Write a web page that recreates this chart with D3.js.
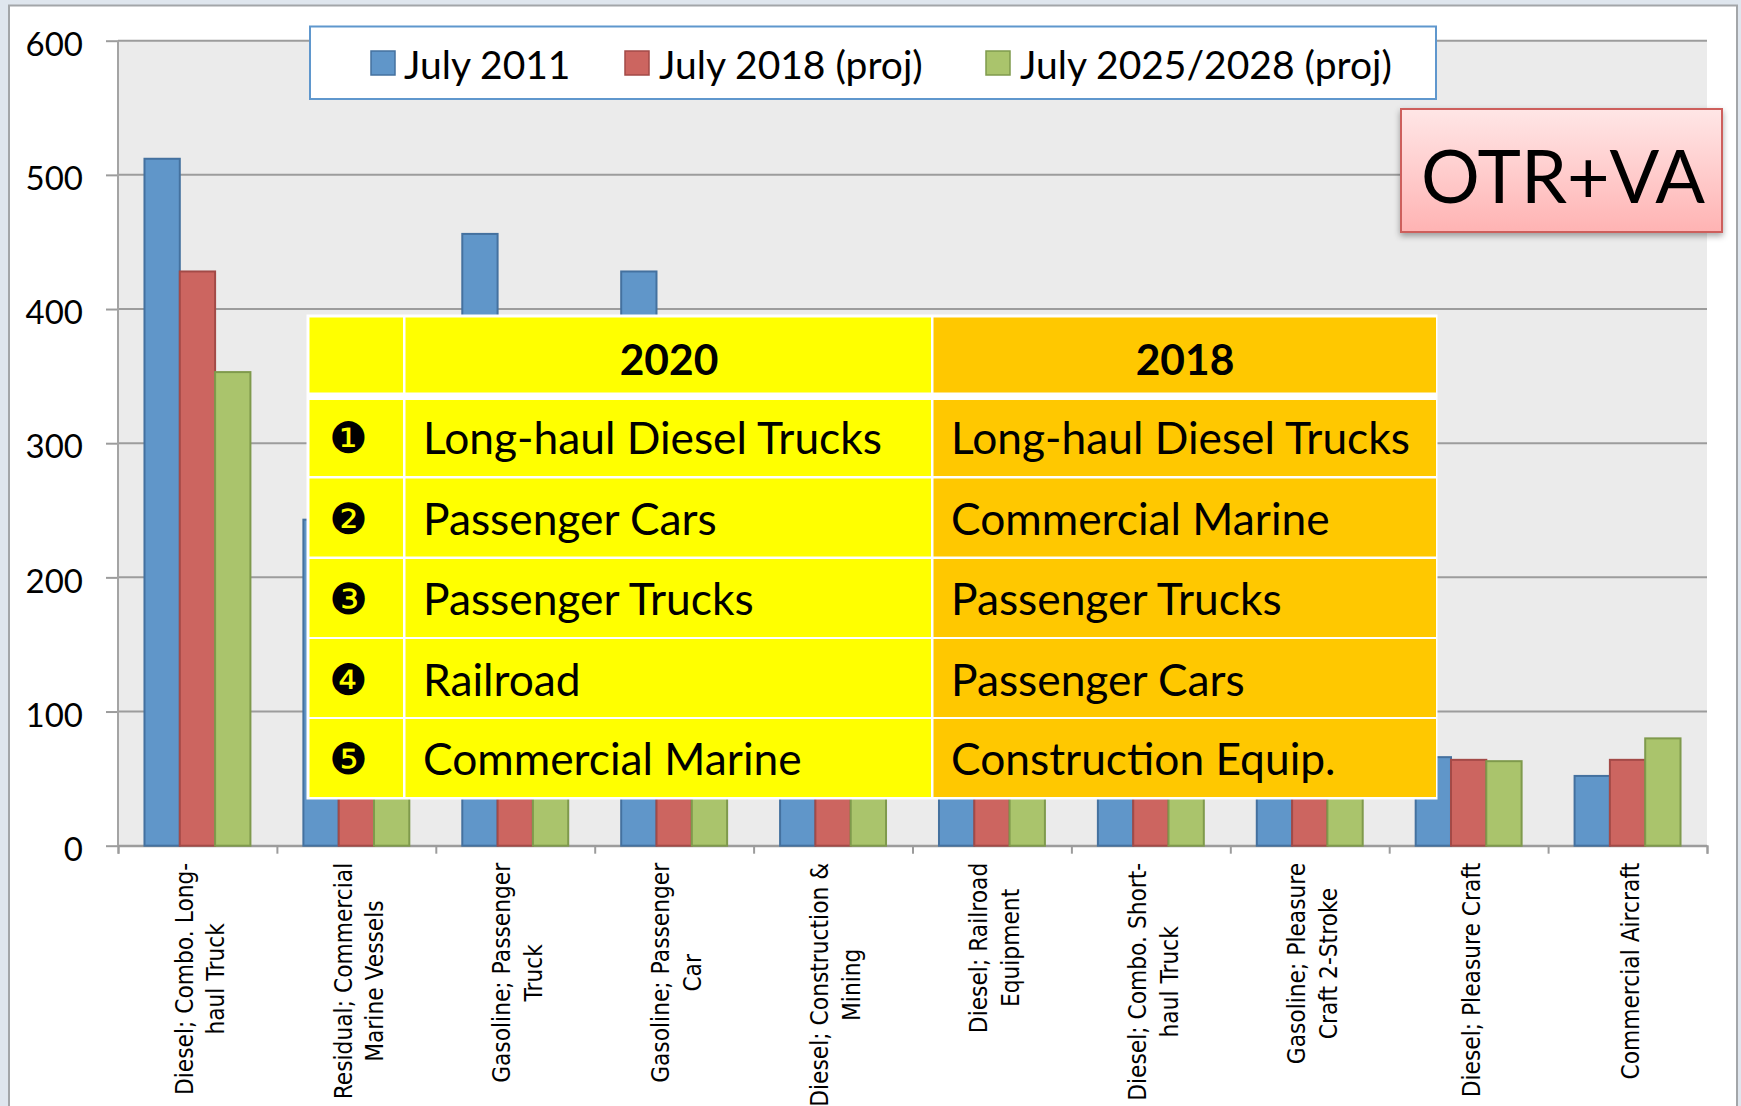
<!DOCTYPE html>
<html>
<head>
<meta charset="utf-8">
<script src="https://cdn.jsdelivr.net/npm/d3@7"></script>
<style>
  html, body { margin: 0; padding: 0; background: #dfe6ee; overflow: hidden; }
  text { font-family: Lato, sans-serif; fill: #000; }
  .axis text { font-size: 33px; }
  .cat { font-family: "DejaVu Sans", sans-serif; font-size: 20px; }
</style>
</head>
<body>
<div id="chart"></div>
<script>
const categories = [
  ['Diesel; Combo. Long-', 'haul Truck'],
  ['Residual; Commercial', 'Marine Vessels'],
  ['Gasoline; Passenger', 'Truck'],
  ['Gasoline; Passenger', 'Car'],
  ['Diesel; Construction &', 'Mining'],
  ['Diesel; Railroad', 'Equipment'],
  ['Diesel; Combo. Short-', 'haul Truck'],
  ['Gasoline; Pleasure', 'Craft 2-Stroke'],
  ['Diesel; Pleasure Craft'],
  ['Commercial Aircraft']
];
const seriesNames = ['July 2011', 'July 2018 (proj)', 'July 2025/2028 (proj)'];
// the table hides most of the bars in the middle, those are guesses
const july2011 = [512, 243, 456, 428, 240, 150, 150, 100, 66, 52];
const july2018 = [428, 200, 300, 210, 180, 160, 100, 60, 64, 64];
const july2025 = [353, 180, 180, 130, 150, 170, 70, 50, 63, 80];
const yTicks = [0, 100, 200, 300, 400, 500, 600];

const tableHead = ['', '2020', '2018'];
const ranks = ['❶', '❷', '❸', '❹', '❺'];
const rank2020 = ['Long-haul Diesel Trucks', 'Passenger Cars', 'Passenger Trucks', 'Railroad', 'Commercial Marine'];
const rank2018 = ['Long-haul Diesel Trucks', 'Commercial Marine', 'Passenger Trucks', 'Passenger Cars', 'Construction Equip.'];

const fills = ['#6096c9', '#cc6560', '#aac46c'];
const strokes = ['#44719f', '#a34a47', '#7f9a4c'];

class Chart{
  constructor(opts){
    this.element = opts.element;
    this.width = 1741;
    this.height = 1106;
    this.margin = { top : 40.7, bottom : 260.3, left : 118, right : 34 };
    this.draw();
  }

  draw(){
    const svg = d3.select(this.element).append('svg')
                  .attr('width', this.width)
                  .attr('height', this.height)
                  .style('display', 'block');
    this.svg = svg;

    this.addDefs();

    svg.append('rect')
       .attr('x', 9).attr('y', 5.5)
       .attr('width', 1728).attr('height', 1200)
       .attr('fill', '#fff')
       .attr('stroke', '#a3a6a9')
       .attr('stroke-width', 2);

    this.plot = svg.append('g')
                   .attr('transform', `translate(${this.margin.left},${this.margin.top})`);

    this.createScales();
    this.addAxes();
    this.addBars();
    this.addCategoryLabels();
    this.addLegend();
    this.addBadge();
    this.addTable();
  }

  addDefs(){
    const defs = this.svg.append('defs');
    const grad = defs.append('linearGradient')
                     .attr('id', 'badge')
                     .attr('x1', 0).attr('x2', 0).attr('y1', 0).attr('y2', 1);
    grad.append('stop').attr('offset', '0%').attr('stop-color', '#ffe6e6');
    grad.append('stop').attr('offset', '45%').attr('stop-color', '#ffd0d0');
    grad.append('stop').attr('offset', '100%').attr('stop-color', '#ffb3b3');

    const shadow = defs.append('filter')
                       .attr('id', 'shadow')
                       .attr('x', '-5%').attr('y', '-5%')
                       .attr('width', '110%').attr('height', '115%');
    shadow.append('feDropShadow')
          .attr('dx', 0).attr('dy', 3)
          .attr('stdDeviation', 3)
          .attr('flood-color', '#000')
          .attr('flood-opacity', 0.35);
  }

  createScales(){
    const m = this.margin;
    this.innerW = this.width - m.left - m.right;
    this.innerH = this.height - m.top - m.bottom;

    this.xScale = d3.scaleBand()
                    .domain(d3.range(categories.length))
                    .range([0, this.innerW])
                    .paddingInner(1/3)
                    .paddingOuter(1/6);

    this.barScale = d3.scaleBand()
                      .domain(d3.range(seriesNames.length))
                      .range([0, this.xScale.bandwidth()]);

    this.yScale = d3.scaleLinear()
                    .domain([0, 600])
                    .range([this.innerH, 0]);
  }

  addAxes(){
    this.plot.append('rect')
             .attr('width', this.innerW)
             .attr('height', this.innerH)
             .attr('fill', '#ebebeb');

    const yAxis = d3.axisLeft(this.yScale)
                    .tickValues(yTicks)
                    .tickSize(12)
                    .tickPadding(23);

    const grid = this.plot.append('g').attr('class', 'axis y');
    grid.selectAll('.gridline')
        .data(yTicks)
        .enter().append('line')
        .attr('class', 'gridline')
        .attr('x1', 0).attr('x2', this.innerW)
        .attr('y1', d => this.yScale(d)).attr('y2', d => this.yScale(d))
        .attr('stroke', '#9c9c9c')
        .attr('stroke-width', 2);
    grid.call(yAxis);
    grid.select('.domain').remove();
    grid.selectAll('.tick line').attr('stroke', '#9c9c9c').attr('stroke-width', 2);
    grid.selectAll('.tick text').attr('dy', '0.72em').attr('y', -9).attr('x', -35);

    this.plot.append('line')
             .attr('y1', 0).attr('y2', this.innerH)
             .attr('stroke', '#a4a4a4')
             .attr('stroke-width', 2);

    // ticks sit between the groups so a plain linear scale is used for them
    const xEdges = d3.scaleLinear().domain([0, categories.length]).range([0, this.innerW]);
    const xAxis = d3.axisBottom(xEdges)
                    .ticks(categories.length)
                    .tickSize(8)
                    .tickFormat('');
    const xg = this.plot.append('g')
                        .attr('class', 'axis x')
                        .attr('transform', `translate(0,${this.innerH})`)
                        .call(xAxis);
    xg.select('.domain').attr('stroke', '#9c9c9c').attr('stroke-width', 2);
    xg.selectAll('.tick line').attr('stroke', '#9c9c9c').attr('stroke-width', 2);
    this.xAxisG = xg;
  }

  addBars(){
    const series = [july2011, july2018, july2025];
    const group = this.plot.selectAll('.series')
                      .data(series)
                      .enter().append('g')
                      .attr('class', 'series');

    group.each((vals, s, nodes) => {
      d3.select(nodes[s]).selectAll('rect')
        .data(vals)
        .enter().append('rect')
        .attr('x', (d, i) => this.xScale(i) + this.barScale(s))
        .attr('y', d => this.yScale(d))
        .attr('width', this.barScale.bandwidth())
        .attr('height', d => this.innerH - this.yScale(d))
        .attr('fill', fills[s])
        .attr('stroke', strokes[s])
        .attr('stroke-width', 2);
    });
  }

  addCategoryLabels(){
    const lineGap = 31.6;
    const topY = this.innerH + 17;
    const stretchX = 1.09;
    const stretch = `scale(${stretchX},1.25)`;

    const labels = this.plot.selectAll('.cat-label')
                       .data(categories)
                       .enter().append('g')
                       .attr('class', 'cat-label');

    labels.each((lines, i, nodes) => {
      const g = d3.select(nodes[i]);
      const cx = this.xScale(i) + this.xScale.bandwidth() / 2 + 3;
      const texts = g.selectAll('text')
                     .data(lines)
                     .enter().append('text')
                     .attr('class', 'cat')
                     .attr('text-anchor', 'middle')
                     .text(d => d);
      const widest = d3.max(texts.nodes(), n => n.getComputedTextLength()) * stretchX;
      const cy = topY + widest / 2;
      texts.attr('transform', (d, k) => {
        const x = cx + (k - (lines.length - 1) / 2) * lineGap + 8;
        return `translate(${x},${cy}) rotate(-90) ${stretch}`;
      });
    });
  }

  addLegend(){
    const legend = this.svg.append('g').attr('class', 'legend');
    legend.append('rect')
          .attr('x', 310).attr('y', 26.5)
          .attr('width', 1126).attr('height', 72.5)
          .attr('fill', '#fff')
          .attr('stroke', '#5f97cd')
          .attr('stroke-width', 2);

    const swatchX = [371, 625, 986];
    const labelX = [404, 659, 1020];
    const items = legend.selectAll('.item')
                        .data(seriesNames)
                        .enter().append('g')
                        .attr('class', 'item');
    items.append('rect')
         .attr('x', (d, i) => swatchX[i])
         .attr('y', 51)
         .attr('width', 24).attr('height', 24)
         .attr('fill', (d, i) => fills[i])
         .attr('stroke', (d, i) => strokes[i])
         .attr('stroke-width', 1.5);
    items.append('text')
         .attr('x', (d, i) => labelX[i])
         .attr('y', 79)
         .style('font-size', '39px')
         .text(d => d);
  }

  addBadge(){
    const badge = this.svg.append('g').attr('class', 'badge');
    badge.append('rect')
         .attr('x', 1401).attr('y', 109)
         .attr('width', 321).attr('height', 123)
         .attr('fill', 'url(#badge)')
         .attr('stroke', '#cd5f5b')
         .attr('stroke-width', 2)
         .attr('filter', 'url(#shadow)');
    badge.append('text')
         .attr('x', 1421)
         .attr('y', 203)
         .style('font-size', '73.5px')
         .text('OTR+VA');
  }

  addTable(){
    const colX = [309.5, 405.5, 933.5];
    const colW = [93.5, 525.5, 502.5];
    const rowY = [317.5, 400, 478.5, 559, 639, 719];
    const rowH = [75, 76, 78, 78, 78, 78];
    const cellFill = ['#ffff00', '#ffff00', '#ffc800'];
    const table = this.svg.append('g').attr('class', 'table');

    table.append('rect')
         .attr('x', 306.5).attr('y', 314.5)
         .attr('width', 1131).attr('height', 485)
         .attr('fill', '#fff');

    rowY.forEach((y, r) => {
      table.selectAll(`.cell-${r}`)
           .data(colX)
           .enter().append('rect')
           .attr('x', d => d)
           .attr('y', y)
           .attr('width', (d, c) => colW[c])
           .attr('height', rowH[r])
           .attr('fill', (d, c) => cellFill[c]);
    });

    table.selectAll('.head')
         .data(tableHead)
         .enter().append('text')
         .attr('x', (d, c) => c === 1 ? 669 : 1185)
         .attr('y', 375)
         .attr('text-anchor', 'middle')
         .style('font-size', '42.5px')
         .style('font-weight', 700)
         .text(d => d);

    const baseY = [454, 535, 615, 696, 775];
    table.selectAll('.rank')
         .data(ranks)
         .enter().append('text')
         .attr('x', 348.5)
         .attr('y', (d, i) => baseY[i] - 1)
         .attr('text-anchor', 'middle')
         .style('font-family', '"DejaVu Sans"')
         .style('font-size', '43px')
         .text(d => d);

    table.selectAll('.r2020')
         .data(rank2020)
         .enter().append('text')
         .attr('x', 423)
         .attr('y', (d, i) => baseY[i])
         .style('font-size', '44.3px')
         .text(d => d);

    table.selectAll('.r2018')
         .data(rank2018)
         .enter().append('text')
         .attr('x', 951)
         .attr('y', (d, i) => baseY[i])
         .style('font-size', '44.3px')
         .text(d => d);
  }
}

new Chart({ element : document.getElementById('chart') });
</script>
</body>
</html>
